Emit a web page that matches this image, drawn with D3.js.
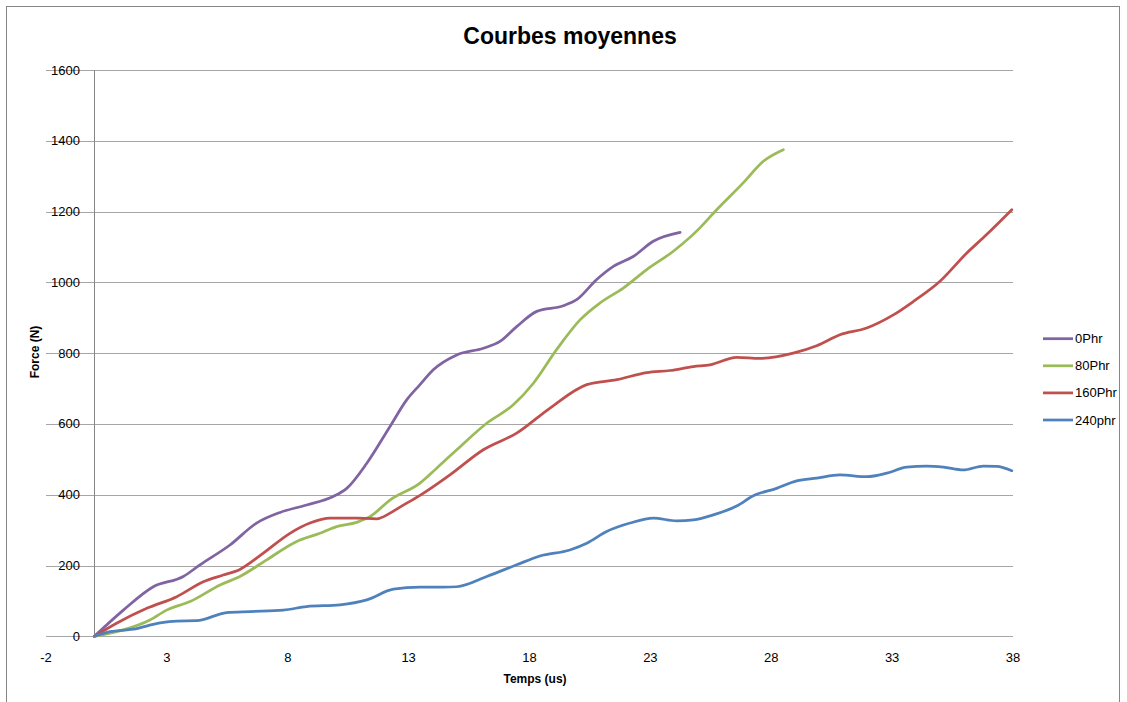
<!DOCTYPE html>
<html>
<head>
<meta charset="utf-8">
<script src="https://cdn.jsdelivr.net/npm/d3@7"></script>
<style>
  html, body { margin: 0; padding: 0; background: #fff; }
  svg { display: block; }
  text { font-family: "Liberation Sans", Arial, sans-serif; fill: #000; }
</style>
</head>
<body>
<svg id="chart" width="1127" height="702"></svg>
<script>
// Mean force curves: time (us) vs force (N)
const seriesNames = ["0Phr", "80Phr", "160Phr", "240phr"];
const seriesColors = ["#8064A2", "#9BBB59", "#C0504D", "#4F81BD"];

const t0 = [0, 1.2, 2.44, 3.68, 4.37, 5.61, 6.71, 7.68, 8.78, 9.88, 10.44, 11.27, 12.23, 12.92, 13.47, 14.02, 14.99, 16.09, 16.78, 17.47, 18.3, 19.4, 19.95, 20.78, 21.47, 22.29, 23.12, 24.23];
const f0 = [0, 74, 140, 169, 202, 258, 320, 350, 371, 395, 418, 489, 593, 668, 711, 753, 795, 814, 833, 875, 918, 934, 951, 1008, 1045, 1073, 1116, 1141];

const t80 = [0, 1.2, 2.3, 2.99, 3.96, 5.2, 6.02, 7.13, 8.37, 9.33, 10.02, 10.85, 11.4, 12.23, 13.47, 14.16, 14.99, 16.23, 17.33, 18.16, 19.12, 20.09, 20.92, 21.88, 22.85, 23.95, 25.05, 25.74, 26.84, 27.67, 28.5];
const f80 = [0, 18, 46, 74, 98, 145, 169, 216, 268, 291, 310, 322, 338, 385, 433, 475, 527, 602, 654, 715, 810, 894, 942, 984, 1036, 1088, 1154, 1205, 1281, 1342, 1375];

const t160 = [0, 0.92, 2.17, 3.41, 4.51, 5.33, 6.02, 6.99, 8.09, 8.92, 9.75, 10.85, 11.68, 12.23, 12.64, 13.47, 14.71, 16.09, 17.47, 18.85, 20.37, 21.61, 22.85, 23.81, 24.78, 25.47, 26.57, 27.53, 28.91, 29.88, 30.84, 31.95, 33.05, 33.88, 34.98, 36.09, 36.91, 37.95];
const f160 = [0, 37, 79, 112, 154, 173, 189, 235, 291, 320, 334, 334, 332, 348, 365, 398, 456, 527, 574, 645, 711, 725, 745, 751, 762, 767, 788, 785, 800, 821, 852, 871, 908, 946, 1003, 1083, 1135, 1205];

const t240 = [0, 0.65, 1.61, 2.72, 3.41, 4.23, 5.47, 6.44, 7.82, 8.78, 10.16, 11.27, 12.37, 13.47, 14.43, 14.99, 16.23, 17.47, 18.43, 19.67, 20.37, 21.19, 22.16, 23.12, 24.09, 24.78, 25.6, 26.57, 27.26, 28.22, 29.05, 29.88, 30.84, 31.95, 32.78, 33.6, 34.43, 35.12, 35.94, 36.77, 37.33, 37.95];
const f240 = [0, 13, 20, 38, 43, 44, 67, 70, 74, 84, 89, 103, 133, 139, 139, 140, 169, 202, 227, 244, 263, 296, 320, 334, 326, 329, 343, 368, 397, 418, 439, 447, 456, 451, 461, 478, 481, 478, 470, 481, 480, 468];

const xTicks = [-2, 3, 8, 13, 18, 23, 28, 33, 38];
const yTicks = [0, 200, 400, 600, 800, 1000, 1200, 1400, 1600];

const chartTitle = "Courbes moyennes";
const xTitle = "Temps (us)";
const yTitle = "Force (N)";

const times = [t0, t80, t160, t240];
const forces = [f0, f80, f160, f240];
const series = seriesNames.map((name, i) => ({
  name,
  color: seriesColors[i],
  points: times[i].map((t, j) => ({ t, f: forces[i][j] }))
}));

const svg = d3.select("#chart");

// chart frame
svg.append("rect")
  .attr("x", 6.5).attr("y", 6.5)
  .attr("width", 1113).attr("height", 720)
  .attr("fill", "none").attr("stroke", "#868686").attr("stroke-width", 1);

const plot = { left: 46, right: 1013, top: 70, bottom: 636.3 };
const x = d3.scaleLinear().domain([-2, 38]).range([plot.left, plot.right]);
const y = d3.scaleLinear().domain([0, 1600]).range([plot.bottom, plot.top]);

// horizontal gridlines across the full plot width
svg.append("g")
  .selectAll("line")
  .data(yTicks)
  .join("line")
  .attr("x1", plot.left).attr("x2", plot.right)
  .attr("y1", d => Math.round(y(d)) + 0.5).attr("y2", d => Math.round(y(d)) + 0.5)
  .attr("stroke", "#a6a6a6").attr("stroke-width", 1);

// vertical axis crossing at t = 0
svg.append("line")
  .attr("x1", Math.round(x(0)) + 0.5).attr("x2", Math.round(x(0)) + 0.5)
  .attr("y1", plot.top).attr("y2", plot.bottom)
  .attr("stroke", "#868686").attr("stroke-width", 1);

// y tick labels
svg.append("g")
  .selectAll("text")
  .data(yTicks)
  .join("text")
  .attr("x", 80).attr("y", d => y(d))
  .attr("dy", "0.35em")
  .attr("text-anchor", "end")
  .attr("font-size", 13)
  .text(d => d);

// x tick labels
svg.append("g")
  .selectAll("text")
  .data(xTicks)
  .join("text")
  .attr("x", d => x(d)).attr("y", 657)
  .attr("dy", "0.35em")
  .attr("text-anchor", "middle")
  .attr("font-size", 13)
  .text(d => d);

// curves
const line = d3.line()
  .x(d => x(d.t))
  .y(d => y(d.f))
  .curve(d3.curveMonotoneX);

svg.append("g")
  .selectAll("path")
  .data(series)
  .join("path")
  .attr("d", d => line(d.points))
  .attr("fill", "none")
  .attr("stroke", d => d.color)
  .attr("stroke-width", 2.75)
  .attr("stroke-linejoin", "round")
  .attr("stroke-linecap", "round");

// title and axis titles
svg.append("text")
  .attr("x", 570).attr("y", 36)
  .attr("dy", "0.35em")
  .attr("text-anchor", "middle")
  .attr("font-size", 23).attr("font-weight", "bold")
  .text(chartTitle);

svg.append("text")
  .attr("x", 535).attr("y", 679)
  .attr("dy", "0.35em")
  .attr("text-anchor", "middle")
  .attr("font-size", 12).attr("font-weight", "bold")
  .text(xTitle);

svg.append("text")
  .attr("transform", "translate(35,352) rotate(-90)")
  .attr("dy", "0.35em")
  .attr("text-anchor", "middle")
  .attr("font-size", 12).attr("font-weight", "bold")
  .text(yTitle);

// legend
const legend = svg.append("g")
  .selectAll("g")
  .data(series)
  .join("g")
  .attr("transform", (d, i) => `translate(1043,${338.7 + i * 27.1})`);

legend.append("line")
  .attr("x1", 0).attr("x2", 30)
  .attr("stroke", d => d.color)
  .attr("stroke-width", 2.75);

legend.append("text")
  .attr("x", 32)
  .attr("dy", "0.35em")
  .attr("font-size", 13)
  .text(d => d.name);
</script>
</body>
</html>
